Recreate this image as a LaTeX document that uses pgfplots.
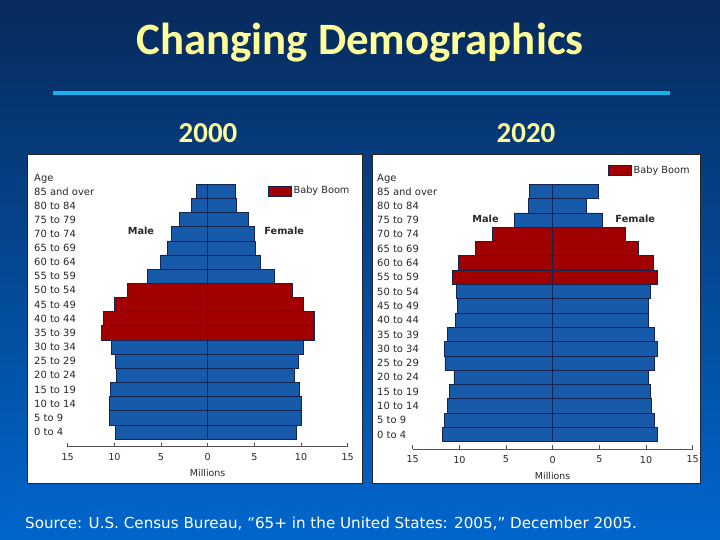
\documentclass[border=0pt]{standalone}
\usepackage{pgfplots}
\pgfplotsset{compat=1.18}
\usepackage{fontspec}
\setmainfont{DejaVu Sans}
\newfontfamily\carlito{Carlito}
\definecolor{bgtop}{RGB}{8,42,92}
\definecolor{bgbot}{RGB}{0,102,204}
\definecolor{titley}{RGB}{255,255,153}
\definecolor{cyanline}{RGB}{26,178,234}
\definecolor{barblue}{RGB}{24,90,170}
\definecolor{barred}{RGB}{160,0,0}
\definecolor{baredge}{RGB}{20,36,80}
\definecolor{txt}{RGB}{40,40,40}

\pgfplotsset{
  pyr/.style={
    xbar, bar shift=0pt, bar width=1,
    xmin=-15, xmax=15, ymin=-1.05, ymax=18.6,
    x=9.333bp,
    clip=false,
    axis x line*=bottom, axis y line*=left,
    y axis line style={draw=none},
    x axis line style={color=txt!80, line width=0.8bp},
    ytick style={draw=none},
    xtick style={color=txt!80, line width=0.8bp},
    tick align=inside, major tick length=4bp,
    xtick={-15,-10,-5,0,5,10,15},
    xticklabels={15,10,5,0,5,10,15},
    xticklabel style={font=\fontsize{9.6}{11}\selectfont, text=txt, yshift=-3bp},
    ytick={0,1,2,3,4,5,6,7,8,9,10,11,12,13,14,15,16,17,17.88},
    yticklabels={0 to 4,5 to 9,10 to 14,15 to 19,20 to 24,25 to 29,30 to 34,35 to 39,40 to 44,45 to 49,50 to 54,55 to 59,60 to 64,65 to 69,70 to 74,75 to 79,80 to 84,85 and over,Age},
    yticklabel style={font=\fontsize{10}{11}\selectfont, text=txt, anchor=west},
    xlabel={Millions},
    xlabel style={font=\fontsize{9.5}{11}\selectfont, text=txt, yshift=-2bp},
    legend image code/.code={\fill[#1] (0bp,-5bp) rectangle (23bp,5bp);},
    legend style={draw=none, fill=none, inner sep=0pt, font=\fontsize{9.8}{11}\selectfont, text=txt, anchor=west},
    every axis plot/.append style={draw=baredge, line width=0.5bp},
  }
}

\begin{document}
\begin{tikzpicture}
\path[use as bounding box] (0,0) rectangle (720bp,540bp);
\shade[top color=bgtop, bottom color=bgbot] (0,0) rectangle (720bp,540bp);
\node[anchor=base, text=titley, font=\carlito\bfseries\fontsize{45}{50}\selectfont] at (360bp,485bp) {Changing Demographics};
\draw[cyanline, line width=4bp] (53bp,446.5bp) -- (670bp,446.5bp);
\node[anchor=base, text=titley, font=\carlito\bfseries\fontsize{29}{34}\selectfont] at (208bp,397bp) {2000};
\node[anchor=base, text=titley, font=\carlito\bfseries\fontsize{29}{34}\selectfont] at (526bp,397bp) {2020};
\draw[black!85, line width=0.8bp, fill=white] (27.7bp,56.7bp) rectangle (362bp,386bp);
\draw[black!85, line width=0.8bp, fill=white] (372bp,56.7bp) rectangle (700.5bp,386bp);
\node[anchor=base west, inner sep=0pt, text=white, font=\fontsize{15.2}{17}\selectfont] at (25bp,12bp) {Source: U.S. Census Bureau, “65+ in the United States: 2005,” December 2005.};

% ---------- 2000 ----------
\begin{axis}[pyr, y=14.15bp, at={(67.7bp,93.3bp)}, anchor=south west,
  yticklabel style={xshift=-37bp},
  legend style={at={(0.715,0.92)}}]
\addplot[fill=barred, forget plot] coordinates {(-11.36,7) (-11.14,8) (-9.96,9) (-8.57,10)};
\addplot[fill=barred] coordinates {(11.46,7) (11.39,8) (10.25,9) (9.04,10)};
\addlegendentry{Baby Boom}
\addplot[fill=barblue, forget plot] coordinates {
(-9.86,0) (-10.5,1) (-10.5,2) (-10.39,3) (-9.75,4) (-9.86,5) (-10.32,6)
(-6.43,11) (-5.07,12) (-4.36,13) (-3.89,14) (-3.0,15) (-1.71,16) (-1.18,17)};
\addplot[fill=barblue, forget plot] coordinates {
(9.46,0) (10.0,1) (10.0,2) (9.82,3) (9.29,4) (9.68,5) (10.21,6)
(7.1,11) (5.64,12) (5.07,13) (4.96,14) (4.32,15) (3.04,16) (2.96,17)};
\node[font=\bfseries\fontsize{9.8}{11}\selectfont, text=txt] at (axis cs:-7.15,14.2) {Male};
\node[font=\bfseries\fontsize{9.8}{11}\selectfont, text=txt] at (axis cs:8.2,14.2) {Female};
\end{axis}

% ---------- 2020 ----------
\begin{axis}[pyr, y=14.3bp, at={(412.7bp,90.5bp)}, anchor=south west,
  yticklabel style={xshift=-39bp},
  legend style={at={(0.6975,0.993)}}]
\addplot[fill=barred, forget plot] coordinates {(-10.75,11) (-10.1,12) (-8.3,13) (-6.5,14)};
\addplot[fill=barred] coordinates {(11.2,11) (10.75,12) (9.2,13) (7.75,14)};
\addlegendentry{Baby Boom}
\addplot[fill=barblue, forget plot] coordinates {
(-11.8,0) (-11.6,1) (-11.3,2) (-11.1,3) (-10.6,4) (-11.55,5) (-11.6,6) (-11.3,7)
(-10.4,8) (-10.25,9) (-10.3,10) (-4.1,15) (-2.6,16) (-2.5,17)};
\addplot[fill=barblue, forget plot] coordinates {
(11.2,0) (10.9,1) (10.6,2) (10.4,3) (10.2,4) (10.9,5) (11.2,6) (10.9,7)
(10.25,8) (10.2,9) (10.4,10) (5.3,15) (3.6,16) (4.9,17)};
\node[font=\bfseries\fontsize{9.8}{11}\selectfont, text=txt] at (axis cs:-7.2,15.05) {Male};
\node[font=\bfseries\fontsize{9.8}{11}\selectfont, text=txt] at (axis cs:8.85,15.05) {Female};
\end{axis}
\end{tikzpicture}
\end{document}
